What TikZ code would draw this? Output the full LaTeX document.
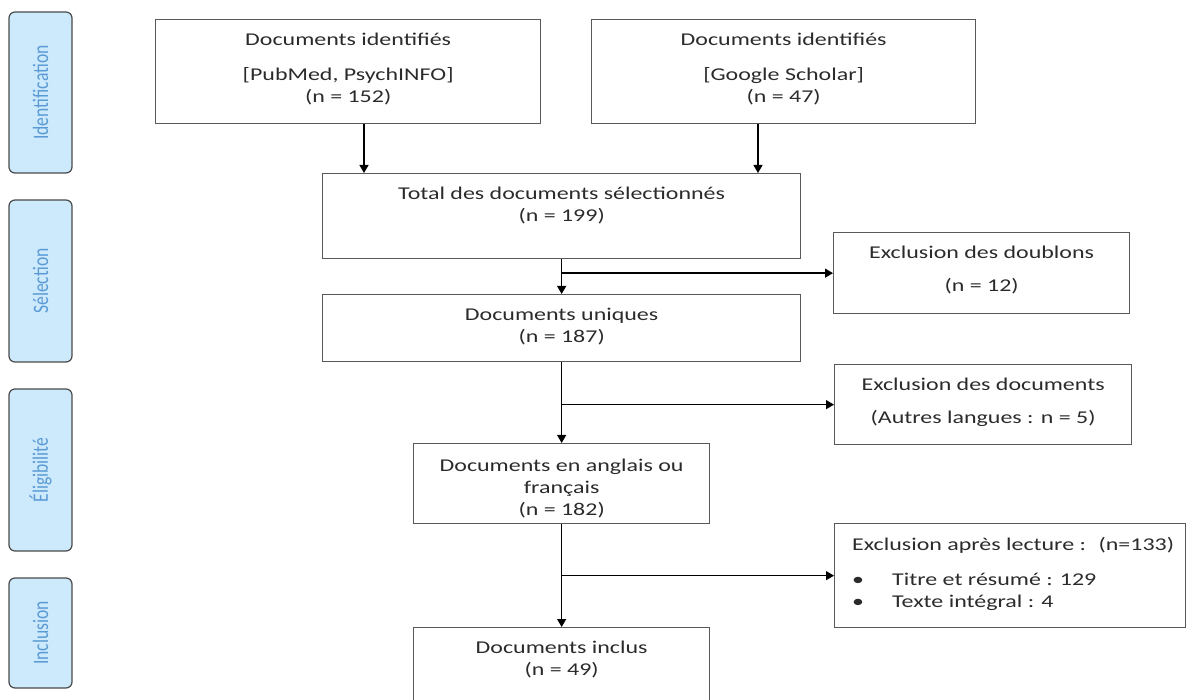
\documentclass[tikz,border=0pt]{standalone}
\usepackage{fontspec}
\setmainfont{Carlito}[FakeStretch=1.33]
\newfontfamily\phasefont{Carlito}[FakeStretch=0.8]
\usetikzlibrary{arrows.meta,positioning}
\definecolor{cBox}{HTML}{595959}
\definecolor{cText}{HTML}{2B2B2B}
\definecolor{cPhase}{HTML}{CDE9FC}
\definecolor{cPhaseText}{HTML}{5B9BD5}
\definecolor{cPhaseLine}{HTML}{4A4A4A}
\tikzset{
  box/.style={draw=cBox,line width=1.3pt,anchor=north west,inner sep=0pt},
  txt/.style={text=cText,align=center,inner sep=0pt,font=\fontsize{18}{22}\selectfont},
  phase/.style={draw=cPhaseLine,fill=cPhase,line width=1.2pt,rounded corners=6pt,rotate=90,
    minimum height=63pt,inner sep=0pt,text=cPhaseText,font=\phasefont\fontsize{22}{26}\selectfont},
  arr/.style={line width=1.3pt,-{Triangle[length=8pt,width=9pt]}},
}

\begin{document}
\begin{tikzpicture}[x=1pt,y=-1pt]
  \useasboundingbox (0,0) rectangle (1189,700);
  % phases on the left
  \foreach \nm/\yc/\len/\lab in {pid/92.5/161/Identification,psel/281/162/Sélection,
      pelig/470/162/Éligibilité,pinc/633/110/Inclusion}{
    \node[phase,minimum width=\len pt] (\nm) at (40.5,\yc) {\lab};}
  % boxes
  \node[box,minimum width=385pt,minimum height=104pt] (b1) at (155,19) {};
  \node[box,minimum width=384pt,minimum height=104pt] (b2) at (591,19) {};
  \node[box,minimum width=478pt,minimum height=85pt] (tot) at (322,173) {};
  \node[box,minimum width=296pt,minimum height=81pt] (dbl) at (833,232) {};
  \node[box,minimum width=478pt,minimum height=67pt] (uni) at (322,294) {};
  \node[box,minimum width=297pt,minimum height=80pt] (exd) at (834,364) {};
  \node[box,minimum width=296pt,minimum height=80pt] (ang) at (413,443) {};
  \node[box,minimum width=351pt,minimum height=104pt] (exl) at (834,523) {};
  \node[box,minimum width=296pt,minimum height=78pt] (inc) at (413,627) {};
  % texts
  \node[txt,below=14pt of b1.north] (t1) {Documents identifiés\\[13pt][PubMed, PsychINFO]\\(n = 152)};
  \node[txt,below=14pt of b2.north] (t2) {Documents identifiés\\[13pt][Google Scholar]\\(n = 47)};
  \node[txt,below=14pt of tot.north] (t3) {Total des documents sélectionnés\\(n = 199)};
  \node[txt,below=14pt of dbl.north] (t4) {Exclusion des doublons\\[11pt](n = 12)};
  \node[txt,below=14pt of uni.north] (t5) {Documents uniques\\(n = 187)};
  \node[txt,below=14pt of exd.north] (t6) {Exclusion des documents\\[11pt](Autres langues : n = 5)};
  \node[txt,below=16pt of ang.north] (t7) {Documents en anglais ou\\français\\(n = 182)};
  \node[txt,align=left,below right=14pt and 18pt of exl.north west] (t8)
    {Exclusion après lecture : \ (n=133)\\[13pt]
     \makebox[40pt][l]{\textbullet}Titre et résumé : 129\\
     \makebox[40pt][l]{\textbullet}Texte intégral : 4};
  \node[txt,below=14pt of inc.north] (t9) {Documents inclus\\(n = 49)};
  % arrows
  \coordinate (c1) at (364,0);
  \coordinate (c2) at (758,0);
  \draw[arr] (c1 |- b1.south) -- (c1 |- tot.north);
  \draw[arr] (c2 |- b2.south) -- (c2 |- tot.north);
  \draw[arr] (tot.south) -- (uni.north);
  \draw[arr] (tot.south |- dbl.west) -- (dbl.west);
  \draw[arr] (uni.south) -- (ang.north);
  \draw[arr] (uni.south |- exd.west) -- (exd.west);
  \draw[arr] (ang.south) -- (inc.north);
  \draw[arr] (ang.south |- exl.west) -- (exl.west);
\end{tikzpicture}
\end{document}
